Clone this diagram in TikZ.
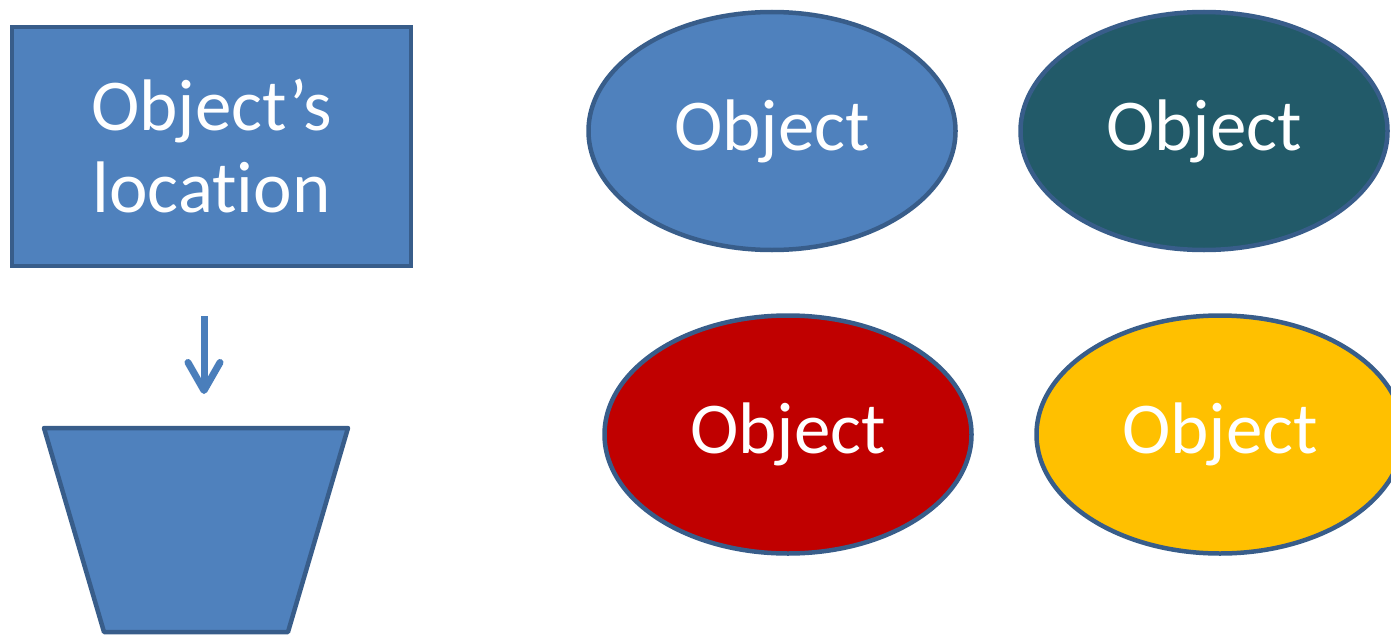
\documentclass[tikz,border=0pt]{standalone}
\usepackage{fontspec}
\setsansfont{Carlito}[Ligatures={NoCommon}]
\usepackage{tikz}
\usetikzlibrary{arrows.meta,shapes.geometric,positioning}

\definecolor{shapeblue}{HTML}{4F81BD}
\definecolor{edgeblue}{HTML}{385D8A}
\definecolor{arrowblue}{HTML}{4A7EBB}
\definecolor{darkteal}{HTML}{225A69}
\definecolor{darkred}{HTML}{C00000}
\definecolor{gold}{HTML}{FFC000}

\begin{document}
\begin{tikzpicture}[x=1pt,y=-1pt,
  shape node/.style={draw=edgeblue,line width=4.5pt,text=white,inner sep=0pt,
    font=\sffamily\fontsize{73}{82}\selectfont},
  obj node/.style={shape node,ellipse,minimum width=367pt,minimum height=238pt},
  loc node/.style={shape node,rectangle,fill=shapeblue,align=center,
    minimum width=399pt,minimum height=239pt}]

  \useasboundingbox (0,0) rectangle (1391,634);

  \node[loc node] (loc) at (211.5,146.5) {Object’s\\location};
  \node[obj node,fill=shapeblue] (obj1) at (772,131) {Object};
  \node[obj node,fill=darkteal] (obj2) at (1204,131) {Object};
  \node[obj node,fill=darkred] (obj3) at (788,434.5) {Object};
  \node[obj node,fill=gold] (obj4) at (1220,434.5) {Object};

  % bin below the location box
  \draw[draw=edgeblue,fill=shapeblue,line width=4.5pt,line join=round]
    (44,428) -- (348,428) -- (288,632) -- (104,632) -- cycle;
  \coordinate (bin) at (204,394);
  \coordinate (drop) at (204,316);

  \draw[arrowblue,line width=7pt,-{Straight Barb[length=28pt,width=32pt,round]}]
    (drop) -- (bin);

\end{tikzpicture}
\end{document}
